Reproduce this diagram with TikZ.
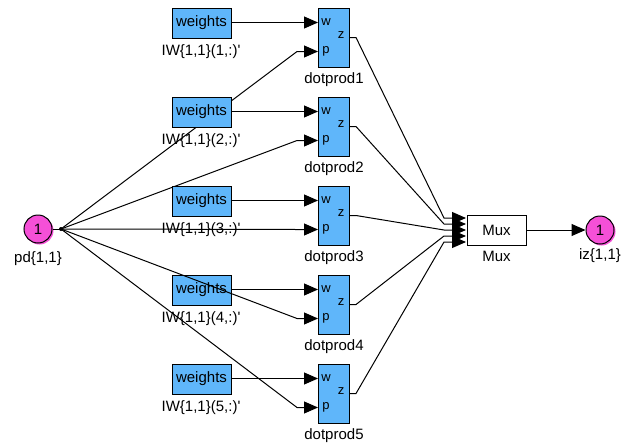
\documentclass[tikz,border=0pt]{standalone}
\usepackage{fontspec}
\setmainfont{Liberation Sans}
\usetikzlibrary{arrows.meta}
\definecolor{blk}{RGB}{95,182,250}
\definecolor{pnk}{RGB}{245,80,215}
\tikzset{
  big/.style={font=\fontsize{15}{17}\selectfont},
  small/.style={font=\fontsize{13}{15}\selectfont},
  wbox/.style={draw, line width=1pt, fill=blk, minimum width=59pt, minimum height=30pt, inner sep=0pt, big},
  dbox/.style={draw, line width=1pt, fill=blk, minimum width=31pt, minimum height=59pt, inner sep=0pt},
  conn/.style={line width=1pt},
  arr/.style={conn, -{Triangle[length=14pt,width=12pt]}},
  lbl/.style={big, inner sep=0pt},
  port/.style={circle, draw, line width=1pt, fill=pnk, minimum size=28pt, inner sep=0pt, big}
}
\begin{document}
\begin{tikzpicture}[x=1pt,y=-1pt]
\useasboundingbox (0,0) rectangle (629,442);
% input port
\fill[pnk] (39.5,230.5) circle (14pt);
\node[port] (pd) at (38,229) {1};
\node[lbl] (pdl) at (38,259) {pd\{1,1\}};
\coordinate (br) at (61,229);
\fill (br) circle (2pt);
\draw[conn] (pd.east) -- (br);
% mux
\node[draw, line width=1pt, fill=white, minimum width=59pt, minimum height=30pt, inner sep=0pt, big] (mux) at (496.5,230) {Mux};
\node[lbl] (muxl) at (496.5,256) {Mux};
% output port
\fill[pnk] (601.5,231.5) circle (14pt);
\node[port] (iz) at (600,230) {1};
\node[lbl] (izl) at (600,256) {iz\{1,1\}};
\draw[arr] (mux.east) -- (iz.west);
\foreach \i in {1,...,5} {
  \pgfmathsetmacro{\t}{8+89*(\i-1)}
  \pgfmathsetmacro{\my}{212+6*\i}
  \node[wbox] (w\i) at (201.5,\t+15) {weights};
  \node[lbl] (wl\i) at (201,\t+44) {IW\{1,1\}(\i,:)\textquotesingle};
  \node[dbox] (d\i) at (333.5,\t+29.5) {};
  \node[small, inner sep=0pt] (dw\i) at (326,\t+14) {w};
  \node[small, inner sep=0pt] (dp\i) at (326,\t+43) {p};
  \node[small, inner sep=0pt] (dz\i) at (341,\t+27.5) {z};
  \node[lbl] (dl\i) at (334,\t+72) {dotprod\i};
  \coordinate (win\i) at (318,\t+14.5);
  \coordinate (pin\i) at (318,\t+43.5);
  \coordinate (pbend\i) at (297,\t+43.5);
  \coordinate (zo\i) at (349,\t+29.5);
  \coordinate (zs\i) at (356,\t+29.5);
  \coordinate (mb\i) at (444,\my);
  \coordinate (mi\i) at (466,\my);
  \draw[arr] (w\i.east |- win\i) -- (win\i);
  \draw[arr] (br) -- (pbend\i) -- (pin\i);
  \draw[arr] (zo\i) -- (zs\i) -- (mb\i) -- (mi\i);
}
\end{tikzpicture}
\end{document}
